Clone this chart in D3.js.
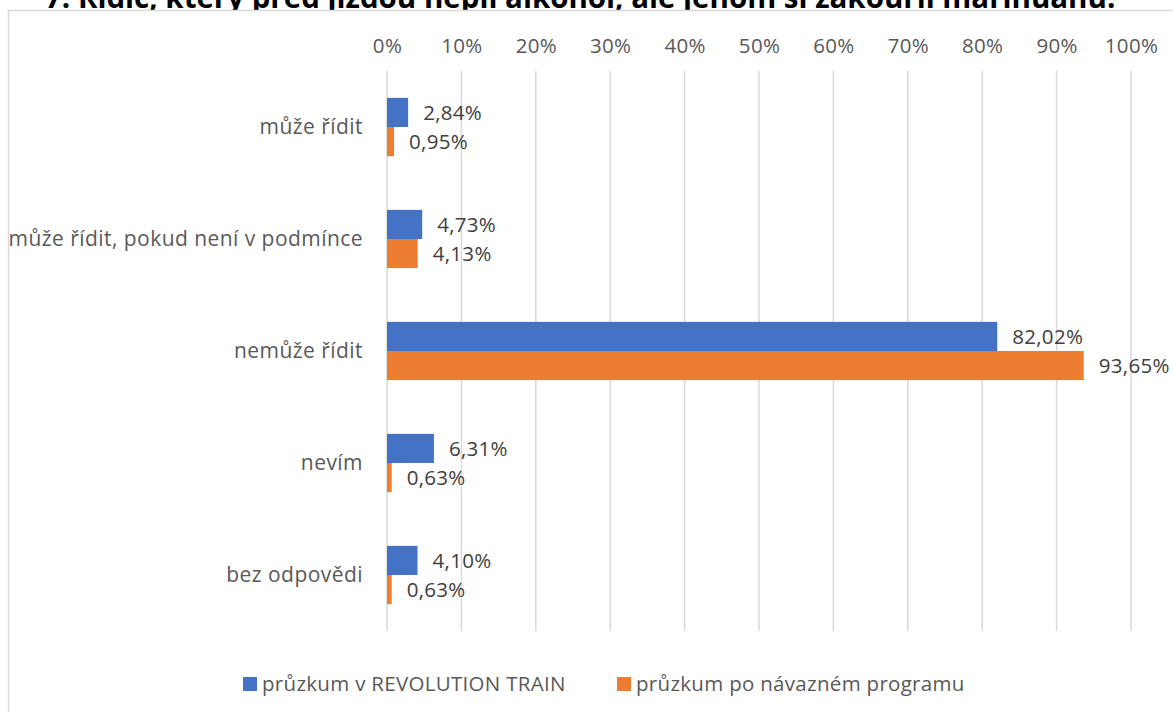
<!DOCTYPE html>
<html>
<head>
<meta charset="utf-8">
<script src="https://cdn.jsdelivr.net/npm/d3@7"></script>
<style>
  body { margin: 0; background: #fff; }
  svg { display: block; font-family: "Open Sans", sans-serif; }
</style>
</head>
<body>
<script>
var categories = ["může řídit", "může řídit, pokud není v podmínce", "nemůže řídit", "nevím", "bez odpovědi"];
var seriesNames = ["průzkum v REVOLUTION TRAIN", "průzkum po návazném programu"];
var revolutionTrain = [2.84, 4.73, 82.02, 6.31, 4.10];
var navazny = [0.95, 4.13, 93.65, 0.63, 0.63];
var ticks = [0, 10, 20, 30, 40, 50, 60, 70, 80, 90, 100];
var colors = ["#4472c4", "#ed7d31"];
var title = "7. Řidič, který před jízdou nepil alkohol, ale jenom si zakouřil marihuanu.";

var width = 1173, height = 712;

var svg = d3.select("body").append("svg")
  .attr("width", width)
  .attr("height", height);

// title (top half cut off in the source picture)
svg.append("text")
  .attr("x", 45).attr("y", 8)
  .attr("font-size", 29.5).attr("font-weight", "bold")
  .attr("fill", "#000")
  .text(title);

// chart frame
svg.append("rect")
  .attr("x", 8.5).attr("y", 10.5)
  .attr("width", width + 20).attr("height", height + 20)
  .attr("fill", "#fff").attr("stroke", "#d9d9d9").attr("stroke-width", 1.5);

var x = d3.scaleLinear().domain([0, 100]).range([387, 1131]);
var y = d3.scaleBand().domain(categories).range([71, 631]).paddingInner(0.48).paddingOuter(0.24);
var sub = d3.scaleBand().domain([0, 1]).range([0, y.bandwidth()]);

// gridlines
svg.append("g").selectAll("line")
  .data(ticks)
  .enter().append("line")
  .attr("x1", function(d) { return x(d); })
  .attr("x2", function(d) { return x(d); })
  .attr("y1", 71).attr("y2", 631)
  .attr("stroke", "#d9d9d9").attr("stroke-width", 1.5);

// top axis labels
var xAxis = svg.append("g")
  .attr("transform", "translate(0,53)")
  .call(d3.axisTop(x).tickValues(ticks).tickSize(0).tickPadding(0).tickFormat(function(d) { return d + "%"; }));
xAxis.select(".domain").remove();
xAxis.selectAll("text")
  .attr("font-size", 20.5).attr("letter-spacing", 0.3).attr("fill", "#595959")
  .attr("font-family", "Open Sans, sans-serif");

// category labels
svg.append("g").selectAll("text")
  .data(categories)
  .enter().append("text")
  .attr("x", 363)
  .attr("y", function(d) { return y(d) + y.bandwidth() / 2; })
  .attr("dy", "0.35em")
  .attr("text-anchor", "end")
  .attr("font-size", 21).attr("letter-spacing", 0.45).attr("fill", "#595959")
  .text(function(d) { return d; });

var rows = [];
categories.forEach(function(c, i) {
  rows.push({ cat: c, s: 0, v: revolutionTrain[i] });
  rows.push({ cat: c, s: 1, v: navazny[i] });
});

svg.append("g").selectAll("rect")
  .data(rows)
  .enter().append("rect")
  .attr("x", x(0))
  .attr("y", function(d) { return y(d.cat) + sub(d.s); })
  .attr("width", function(d) { return x(d.v) - x(0); })
  .attr("height", sub.bandwidth())
  .attr("fill", function(d) { return colors[d.s]; });

var fmt = function(v) { return v.toFixed(2).replace(".", ",") + "%"; };

svg.append("g").selectAll("text")
  .data(rows)
  .enter().append("text")
  .attr("x", function(d) { return x(d.v) + 15; })
  .attr("y", function(d) { return y(d.cat) + sub(d.s) + sub.bandwidth() / 2; })
  .attr("dy", "0.35em")
  .attr("font-size", 20.5).attr("letter-spacing", 0.3).attr("fill", "#404040")
  .text(function(d) { return fmt(d.v); });

// legend
var legendX = [243, 617];
var legend = svg.append("g").selectAll("g")
  .data(seriesNames)
  .enter().append("g")
  .attr("transform", function(d, i) { return "translate(" + legendX[i] + ",684)"; });
legend.append("rect")
  .attr("x", 0).attr("y", -7).attr("width", 14).attr("height", 14)
  .attr("fill", function(d, i) { return colors[i]; });
legend.append("text")
  .attr("x", 19).attr("dy", "0.35em")
  .attr("font-size", 20.5).attr("letter-spacing", 0.3).attr("fill", "#595959")
  .text(function(d) { return d; });
</script>
</body>
</html>
